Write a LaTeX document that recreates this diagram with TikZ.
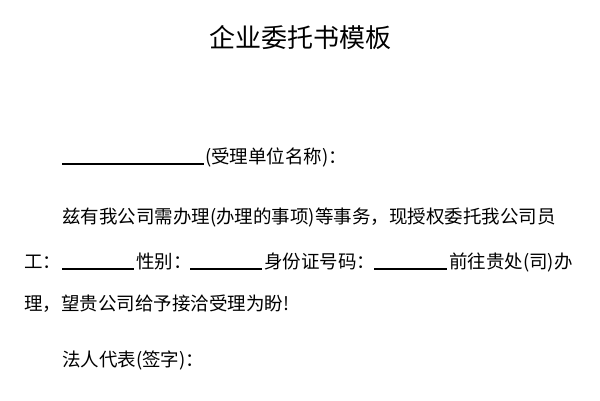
\documentclass[tikz,border=0pt]{standalone}
\usepackage{fontspec}
\setmainfont{Noto Sans CJK SC}
\begin{document}
\begin{tikzpicture}[x=1pt,y=-1pt,
  txt/.style={anchor=base west,inner sep=0pt,font=\fontsize{18.5}{20}\selectfont},
  blank/.style={line width=1.4pt}]
\useasboundingbox[fill=white] (0,0) rectangle (600,400);
\node[font=\fontsize{26}{28}\selectfont,anchor=base] (title) at (300,47) {企业委托书模板};
\coordinate (b1s) at (62,164); \coordinate (b1e) at (204,164);
\draw[blank] (b1s) -- (b1e);
\node[txt] (l1) at (205,163) {(受理单位名称)：};
\node[txt] (l2) at (62,223) {兹有我公司需办理(办理的事项)等事务，现授权委托我公司员};
\node[txt] (l3a) at (24,268) {工：};
\coordinate (b2s) at (62,269); \coordinate (b2e) at (134,269);
\draw[blank] (b2s) -- (b2e);
\node[txt] (l3b) at (136,268) {性别：};
\coordinate (b3s) at (190,269); \coordinate (b3e) at (262,269);
\draw[blank] (b3s) -- (b3e);
\node[txt] (l3c) at (264,268) {身份证号码：};
\coordinate (b4s) at (374,269); \coordinate (b4e) at (447,269);
\draw[blank] (b4s) -- (b4e);
\node[txt] (l3d) at (449,268) {前往贵处(司)办};
\node[txt] (l4) at (24,310) {理，望贵公司给予接洽受理为盼!};
\node[txt] (l5) at (62,366) {法人代表(签字)：};
\end{tikzpicture}
\end{document}
